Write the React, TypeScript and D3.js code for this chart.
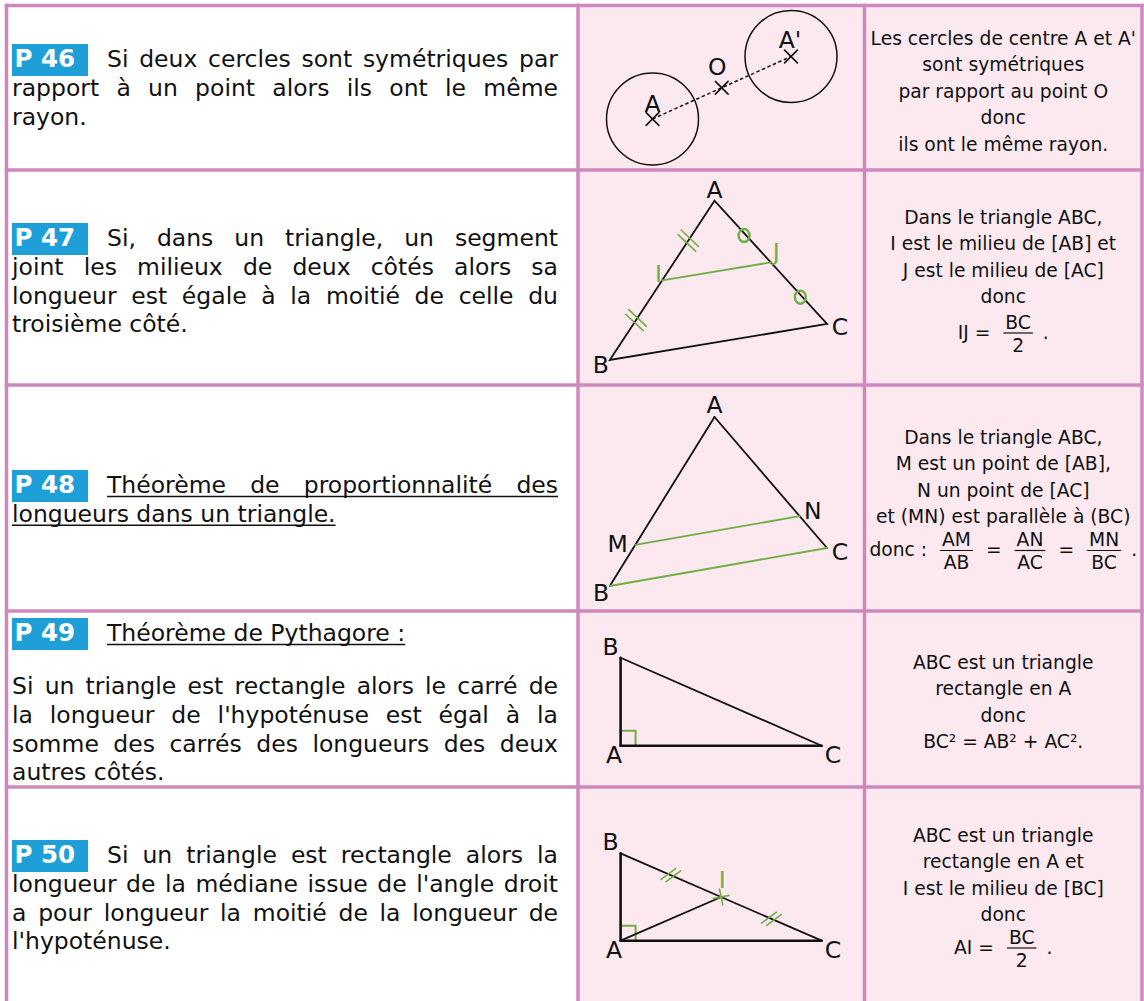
import React, { useEffect, useRef } from 'react';
import * as d3 from 'd3';

const W = 1144;
const H = 1001;

// table grid (page coordinates)
const colX = [6.5, 578, 864.5, 1142];
const rowY = [5.5, 170, 385, 611, 787, 1012];

const BORDER = '#cf88bd';
const PINK = '#fce9f0';
const BLUE = '#1f9fd8';
const GREEN = '#6fae45';
const FAMILY = '"DejaVu Sans", sans-serif';

// ---- left column: statements ----
const badges = ['P 46', 'P 47', 'P 48', 'P 49', 'P 50'];

const p46Text = [
  'Si deux cercles sont symétriques par',
  'rapport à un point alors ils ont le même',
  'rayon.',
];
const p47Text = [
  'Si, dans un triangle, un segment',
  'joint les milieux de deux côtés alors sa',
  'longueur est égale à la moitié de celle du',
  'troisième côté.',
];
const p48Text = ['Théorème de proportionnalité des', 'longueurs dans un triangle.'];
const p49Title = ['Théorème de Pythagore :'];
const p49Text = [
  'Si un triangle est rectangle alors le carré de',
  'la longueur de l\'hypoténuse est égal à la',
  'somme des carrés des longueurs des deux',
  'autres côtés.',
];
const p50Text = [
  'Si un triangle est rectangle alors la',
  'longueur de la médiane issue de l\'angle droit',
  'a pour longueur la moitié de la longueur de',
  'l\'hypoténuse.',
];

const leftBlocks = [
  { badge: badges[0], lines: p46Text, baseline: 67, underline: false },
  { badge: badges[1], lines: p47Text, baseline: 246, underline: false },
  { badge: badges[2], lines: p48Text, baseline: 493, underline: true },
  { badge: badges[3], lines: p49Title, baseline: 641, underline: true },
  { badge: null, lines: p49Text, baseline: 694, underline: false },
  { badge: badges[4], lines: p50Text, baseline: 863, underline: false },
];

// ---- right column: conclusions ----
const r46Lines = [
  'Les cercles de centre A et A\'',
  'sont symétriques',
  'par rapport au point O',
  'donc',
  'ils ont le même rayon.',
];
const r47Lines = ['Dans le triangle ABC,', 'I est le milieu de [AB] et', 'J est le milieu de [AC]', 'donc'];
const r48Lines = ['Dans le triangle ABC,', 'M est un point de [AB],', 'N un point de [AC]', 'et (MN) est parallèle à (BC)'];
const r49Lines = ['ABC est un triangle', 'rectangle en A', 'donc', 'BC² = AB² + AC².'];
const r50Lines = ['ABC est un triangle', 'rectangle en A et', 'I est le milieu de [BC]', 'donc'];

const r47Formula = [{ s: 'IJ =' }, { n: 'BC', d: '2' }, { s: '.' }];
const r48Formula = [
  { s: 'donc :' },
  { n: 'AM', d: 'AB' },
  { s: '=' },
  { n: 'AN', d: 'AC' },
  { s: '=' },
  { n: 'MN', d: 'BC' },
  { s: '.' },
];
const r50Formula = [{ s: 'AI =' }, { n: 'BC', d: '2' }, { s: '.' }];

const rightBlocks = [
  { lines: r46Lines, baseline: 45, formula: null, bar: 0 },
  { lines: r47Lines, baseline: 224, formula: r47Formula, bar: 333 },
  { lines: r48Lines, baseline: 444, formula: r48Formula, bar: 550.5 },
  { lines: r49Lines, baseline: 669, formula: null, bar: 0 },
  { lines: r50Lines, baseline: 842, formula: r50Formula, bar: 948 },
];

// ---- middle column: figures (local cell coordinates) ----
const fig46Centers = [
  { name: 'A', x: 74.5, y: 113.5, lx: 0, ly: -7 },
  { name: 'A\'', x: 213, y: 51, lx: -1, ly: -9 },
];
const fig46Radius = 46;
const fig46Mid = { name: 'O', lx: -4.5, ly: -13 };

const fig47Pts = [
  { name: 'A', x: 136.5, y: 30.7, lx: 0, ly: -2.5 },
  { name: 'B', x: 31.8, y: 190, lx: -9, ly: 13 },
  { name: 'C', x: 249, y: 154, lx: 13, ly: 11 },
];
const fig47Mids = [
  { name: 'I', lx: -3.7, ly: 2 },
  { name: 'J', lx: 5.4, ly: -2.3 },
];

const fig48Pts = [
  { name: 'A', x: 136.5, y: 32, lx: 0, ly: -4 },
  { name: 'B', x: 31.8, y: 201, lx: -8.8, ly: 15 },
  { name: 'C', x: 249, y: 163, lx: 13, ly: 12 },
];
const fig48Ratio = 0.757;
const fig48Inner = [
  { name: 'M', lx: -17.6, ly: 7 },
  { name: 'N', lx: 13.2, ly: 3 },
];

const fig49Pts = [
  { name: 'A', x: 42.6, y: 134.7, lx: -6.6, ly: 17 },
  { name: 'B', x: 42.6, y: 46.7, lx: -10, ly: -2.7 },
  { name: 'C', x: 243.7, y: 134.7, lx: 11.3, ly: 17 },
];
const fig50Pts = [
  { name: 'A', x: 42.6, y: 153.7, lx: -6.6, ly: 17 },
  { name: 'B', x: 42.6, y: 66.3, lx: -10, ly: -3.3 },
  { name: 'C', x: 243.7, y: 153.7, lx: 11.3, ly: 17 },
];
const fig50Mid = { name: 'I', lx: 1, ly: -9 };

const measureCtx = document.createElement('canvas').getContext('2d');
function textWidth(s, font) {
  measureCtx.font = font;
  return measureCtx.measureText(s).width;
}

function cellScales(row) {
  const x = d3.scaleLinear().domain([0, colX[2] - colX[1]]).range([colX[1], colX[2]]);
  const y = d3.scaleLinear().domain([0, rowY[row + 1] - rowY[row]]).range([rowY[row], rowY[row + 1]]);
  return { x, y };
}

export default function App() {
  const ref = useRef(null);

  useEffect(() => {
    const svg = d3.select(ref.current);
    svg.selectAll('*').remove();

    // cells
    const rows = d3.range(rowY.length - 1);
    rows.forEach(r => {
      [0, 1, 2].forEach(c => {
        svg.append('rect')
          .attr('x', colX[c]).attr('y', rowY[r])
          .attr('width', colX[c + 1] - colX[c]).attr('height', rowY[r + 1] - rowY[r])
          .attr('fill', c === 0 ? '#fff' : PINK);
      });
    });

    // ---- left column text ----
    const leftSize = 23.5;
    const leftFont = `${leftSize}px ${FAMILY}`;
    const lh = 28.8;
    const x0 = 12;
    const x1 = 558;
    const spaceW = textWidth(' ', leftFont);
    const left = svg.append('g').attr('font-family', FAMILY).attr('font-size', leftSize).attr('fill', '#111');

    leftBlocks.forEach(block => {
      if (block.badge) {
        left.append('rect')
          .attr('x', 12).attr('y', block.baseline - 23)
          .attr('width', 76).attr('height', 32)
          .attr('fill', BLUE);
        left.append('text')
          .attr('x', 14.5).attr('y', block.baseline)
          .attr('font-weight', 'bold').attr('font-size', 24.5)
          .attr('fill', '#fff')
          .text(block.badge);
      }
      block.lines.forEach((line, i) => {
        const y = block.baseline + i * lh;
        const start = i === 0 && block.badge ? 107 : x0;
        const words = line.split(' ');
        const widths = words.map(w => textWidth(w, leftFont));
        const total = d3.sum(widths);
        const last = i === block.lines.length - 1;
        const gap = !last && words.length > 1 ? (x1 - start - total) / (words.length - 1) : spaceW;
        let x = start;
        words.forEach((w, k) => {
          left.append('text').attr('x', x).attr('y', y).text(w);
          x += widths[k] + (k < words.length - 1 ? gap : 0);
        });
        if (block.underline) {
          left.append('line')
            .attr('x1', start).attr('x2', x)
            .attr('y1', y + 3.5).attr('y2', y + 3.5)
            .attr('stroke', '#111').attr('stroke-width', 1.6);
        }
      });
    });

    // ---- right column text ----
    const rightSize = 18.7;
    const rightFont = `${rightSize}px ${FAMILY}`;
    const rlh = 26.4;
    const cx = (colX[2] + colX[3]) / 2;
    const right = svg.append('g').attr('font-family', FAMILY).attr('font-size', rightSize).attr('fill', '#111');

    rightBlocks.forEach(block => {
      block.lines.forEach((line, i) => {
        right.append('text')
          .attr('x', cx).attr('y', block.baseline + i * rlh)
          .attr('text-anchor', 'middle')
          .text(line);
      });
      if (block.formula) {
        const items = block.formula.map(it => {
          if (it.s !== undefined) return { ...it, w: textWidth(it.s, rightFont) };
          const w = Math.max(textWidth(it.n, rightFont), textWidth(it.d, rightFont)) + 4;
          return { ...it, w };
        });
        const gaps = items.map((it, k) => (k === items.length - 1 ? 0 : items[k + 1].s === '.' ? 10 : 13));
        const total = d3.sum(items, d => d.w) + d3.sum(gaps);
        let x = cx - total / 2;
        items.forEach((it, k) => {
          if (it.s !== undefined) {
            right.append('text').attr('x', x).attr('y', block.bar + 5.5).text(it.s);
          } else {
            const mid = x + it.w / 2;
            right.append('line')
              .attr('x1', x).attr('x2', x + it.w)
              .attr('y1', block.bar).attr('y2', block.bar)
              .attr('stroke', '#111').attr('stroke-width', 1.2);
            right.append('text').attr('x', mid).attr('y', block.bar - 4.5).attr('text-anchor', 'middle').text(it.n);
            right.append('text').attr('x', mid).attr('y', block.bar + 18.5).attr('text-anchor', 'middle').text(it.d);
          }
          x += it.w + gaps[k];
        });
      }
    });

    // ---- figures ----
    const fig = svg.append('g').attr('fill', 'none').attr('stroke-linecap', 'round');
    const labelG = svg.append('g').attr('font-family', FAMILY).attr('font-size', 23.5).attr('text-anchor', 'middle');

    const label = (x, y, p, color = '#111') => {
      labelG.append('text').attr('x', x + p.lx).attr('y', y + p.ly).attr('fill', color).text(p.name);
    };
    const seg = (a, b, color, width, dash = null) => {
      const l = fig.append('line')
        .attr('x1', a[0]).attr('y1', a[1]).attr('x2', b[0]).attr('y2', b[1])
        .attr('stroke', color).attr('stroke-width', width);
      if (dash) l.attr('stroke-dasharray', dash).attr('stroke-linecap', 'butt');
    };
    const cross = (p, half, color, width, rot = 45) => {
      const a = (rot * Math.PI) / 180;
      [a, a + Math.PI / 2].forEach(t => {
        const dx = Math.cos(t) * half;
        const dy = Math.sin(t) * half;
        seg([p[0] - dx, p[1] - dy], [p[0] + dx, p[1] + dy], color, width);
      });
    };
    const ticks = (p, q, n, len, angle, spacing, color) => {
      const m = [(p[0] + q[0]) / 2, (p[1] + q[1]) / 2];
      const L = Math.hypot(q[0] - p[0], q[1] - p[1]);
      const u = [(q[0] - p[0]) / L, (q[1] - p[1]) / L];
      const t = (angle * Math.PI) / 180;
      const v = [u[0] * Math.cos(t) - u[1] * Math.sin(t), u[0] * Math.sin(t) + u[1] * Math.cos(t)];
      d3.range(n).forEach(k => {
        const off = (k - (n - 1) / 2) * spacing;
        const c = [m[0] + u[0] * off, m[1] + u[1] * off];
        seg([c[0] - v[0] * len / 2, c[1] - v[1] * len / 2], [c[0] + v[0] * len / 2, c[1] + v[1] * len / 2], color, 1.6);
      });
    };
    const lerp = (a, b, t) => [a[0] + (b[0] - a[0]) * t, a[1] + (b[1] - a[1]) * t];

    // P46
    {
      const s = cellScales(0);
      const pts = fig46Centers.map(c => [s.x(c.x), s.y(c.y)]);
      const r = s.x(fig46Radius) - s.x(0);
      pts.forEach(p => {
        fig.append('circle').attr('cx', p[0]).attr('cy', p[1]).attr('r', r)
          .attr('stroke', '#111').attr('stroke-width', 1.5);
      });
      seg(pts[0], pts[1], '#111', 1.5, '3.5,2.5');
      const o = lerp(pts[0], pts[1], 0.5);
      [...pts, o].forEach(p => cross(p, 9, '#111', 1.6));
      fig46Centers.forEach((c, i) => label(pts[i][0], pts[i][1], c));
      label(o[0], o[1], fig46Mid);
    }

    // P47
    {
      const s = cellScales(1);
      const [A, B, C] = fig47Pts.map(p => [s.x(p.x), s.y(p.y)]);
      const I = lerp(A, B, 0.5);
      const J = lerp(A, C, 0.5);
      fig.append('path')
        .attr('d', d3.line()([A, B, C]) + 'Z')
        .attr('stroke', '#111').attr('stroke-width', 1.8).attr('stroke-linejoin', 'miter');
      seg(I, J, GREEN, 1.8);
      ticks(A, I, 2, 24, -80, 5.5, GREEN);
      ticks(I, B, 2, 24, -80, 5.5, GREEN);
      [lerp(A, J, 0.5), lerp(J, C, 0.5)].forEach(m => {
        fig.append('ellipse').attr('cx', m[0] + 1.5).attr('cy', m[1] + 4)
          .attr('rx', 5.5).attr('ry', 6.5).attr('stroke', GREEN).attr('stroke-width', 2.4);
      });
      fig47Pts.forEach((p, i) => label([A, B, C][i][0], [A, B, C][i][1], p));
      label(I[0], I[1], fig47Mids[0], GREEN);
      label(J[0], J[1], fig47Mids[1], GREEN);
    }

    // P48
    {
      const s = cellScales(2);
      const [A, B, C] = fig48Pts.map(p => [s.x(p.x), s.y(p.y)]);
      const M = lerp(A, B, fig48Ratio);
      const N = lerp(A, C, fig48Ratio);
      seg(A, B, '#111', 1.8);
      seg(A, C, '#111', 1.8);
      seg(M, N, GREEN, 1.8);
      seg(B, C, GREEN, 1.8);
      fig48Pts.forEach((p, i) => label([A, B, C][i][0], [A, B, C][i][1], p));
      label(M[0], M[1], fig48Inner[0]);
      label(N[0], N[1], fig48Inner[1]);
    }

    // P49 and P50: right triangles
    const rightTriangle = (row, pts) => {
      const s = cellScales(row);
      const [A, B, C] = pts.map(p => [s.x(p.x), s.y(p.y)]);
      fig.append('path')
        .attr('d', d3.line()([[A[0], A[1] - 15], [A[0] + 15, A[1] - 15], [A[0] + 15, A[1]]]))
        .attr('stroke', GREEN).attr('stroke-width', 2).attr('stroke-linecap', 'butt');
      seg(A, B, '#111', 2.6);
      seg(A, C, '#111', 2.6);
      seg(B, C, '#111', 1.8);
      pts.forEach((p, i) => label([A, B, C][i][0], [A, B, C][i][1], p));
      return [A, B, C];
    };

    rightTriangle(3, fig49Pts);

    {
      const [A, B, C] = rightTriangle(4, fig50Pts);
      const I = lerp(B, C, 0.5);
      seg(A, I, '#111', 1.8);
      ticks(B, I, 2, 18, -60, 5.5, GREEN);
      ticks(I, C, 2, 18, -60, 5.5, GREEN);
      const ang = (Math.atan2(C[1] - B[1], C[0] - B[0]) * 180) / Math.PI;
      cross(I, 8, GREEN, 1.6, ang + 55);
      label(I[0], I[1], fig50Mid, GREEN);
    }

    // borders
    const grid = svg.append('g').attr('stroke', BORDER).attr('stroke-width', 3.5);
    colX.forEach(x => {
      grid.append('line').attr('x1', x).attr('x2', x).attr('y1', rowY[0] - 1.75).attr('y2', rowY[rowY.length - 1]);
    });
    rowY.forEach(y => {
      grid.append('line').attr('x1', colX[0] - 1.75).attr('x2', colX[3] + 1.75).attr('y1', y).attr('y2', y);
    });
  }, []);

  return (
    <svg
      ref={ref}
      width={W}
      height={H}
      style={{ position: 'absolute', left: 0, top: 0, display: 'block' }}
    />
  );
}
